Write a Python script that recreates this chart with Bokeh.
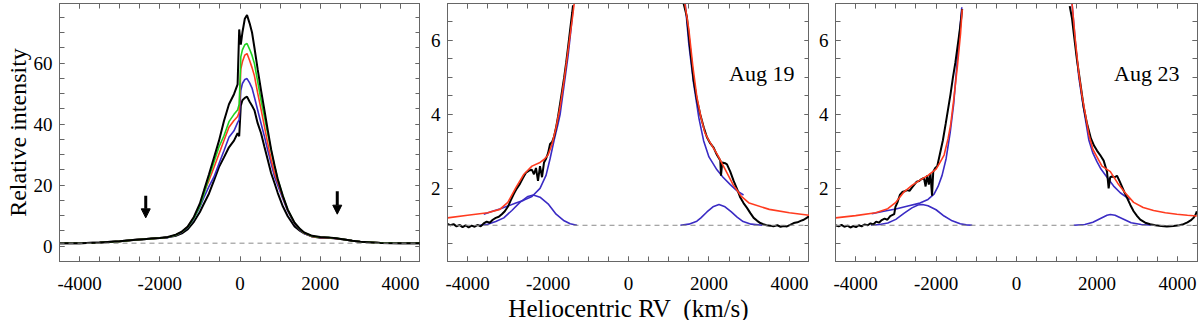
from bokeh.plotting import figure
from bokeh.layouts import row
from bokeh.models import (Range1d, LinearAxis, SingleIntervalTicker, Arrow,
                          NormalHead, Span, Label)
from bokeh.embed import file_html
from bokeh.resources import INLINE

# ---------------- data: panel 1 (all epochs) ----------------
v_all = [-4500, -4000, -3500, -3000, -2600, -2400, -2200, -2000, -1800, -1600,
         -1450, -1300, -1150, -1000, -900, -775, -650, -525, -400, -275,
         -150, -60, -20, 20, 60, 120, 175, 240, 300, 360,
         440, 525, 610, 690, 775, 860, 940, 1070, 1190, 1360,
         1500, 1600, 1800, 2000, 2200, 2400, 2600, 2800, 3000, 3500,
         4000, 4500]
i_black_hi = [1.0, 1.0, 1.2, 1.6, 2.1, 2.3, 2.5, 2.7, 3.0, 3.8,
              4.8, 6.5, 9.6, 14.0, 18.2, 23.5, 29.0, 34.5, 41.0, 46.5,
              49.8, 53.0, 71.0, 66.0, 70.0, 74.5, 75.7, 73.0, 70.0, 65.0,
              58.0, 51.0, 44.5, 38.2, 31.8, 26.5, 22.0, 16.4, 12.0, 7.7,
              5.6, 4.5, 3.4, 3.0, 2.9, 2.6, 2.2, 1.8, 1.45, 1.1,
              1.0, 1.0]
i_green = [1.0, 1.0, 1.2, 1.6, 2.1, 2.3, 2.5, 2.7, 2.95, 3.7,
           4.7, 6.3, 9.2, 13.2, 17.0, 22.5, 27.5, 32.5, 36.2, 40.8,
           43.2, 44.6, 46.5, 62.0, 64.3, 66.0, 66.4, 64.5, 62.5, 59.8,
           54.0, 47.8, 42.3, 37.0, 31.5, 26.5, 22.0, 16.4, 12.0, 7.6,
           5.5, 4.4, 3.3, 2.95, 2.85, 2.6, 2.2, 1.8, 1.45, 1.1,
           1.0, 1.0]
i_red = [1.0, 1.0, 1.2, 1.6, 2.1, 2.3, 2.5, 2.7, 2.95, 3.7,
         4.7, 6.4, 9.4, 13.5, 17.5, 21.5, 25.8, 30.2, 34.6, 39.0,
         41.2, 42.5, 44.0, 58.0, 60.4, 62.6, 63.1, 60.8, 58.5, 55.8,
         50.2, 44.8, 39.2, 33.8, 28.5, 24.0, 21.0, 16.0, 11.8, 7.5,
         5.4, 4.3, 3.2, 2.9, 2.8, 2.55, 2.2, 1.8, 1.45, 1.1,
         1.0, 1.0]
i_blue = [1.0, 1.0, 1.2, 1.6, 2.1, 2.3, 2.5, 2.7, 2.9, 3.6,
          4.6, 6.2, 9.0, 12.8, 16.0, 19.5, 22.7, 27.0, 31.3, 35.7,
          37.8, 40.5, 41.5, 51.0, 53.3, 54.6, 54.9, 53.5, 51.8, 48.8,
          44.6, 40.2, 35.9, 31.5, 27.2, 22.8, 20.0, 15.5, 11.5, 7.3,
          5.3, 4.2, 3.2, 2.85, 2.8, 2.55, 2.2, 1.8, 1.45, 1.1,
          1.0, 1.0]
i_black_lo = [1.0, 1.0, 1.2, 1.6, 2.1, 2.3, 2.5, 2.7, 2.9, 3.4,
              4.2, 5.6, 8.0, 11.2, 13.9, 17.2, 21.5, 25.9, 29.1, 32.4,
              34.6, 37.0, 36.0, 46.0, 47.8, 48.6, 49.0, 47.3, 46.0, 44.5,
              40.3, 37.0, 32.5, 28.4, 24.0, 20.7, 17.5, 13.0, 9.8, 6.5,
              5.0, 4.2, 3.2, 2.8, 2.8, 2.55, 2.2, 1.8, 1.45, 1.1,
              1.0, 1.0]
arrow_v = [-2350, 2425]
arrow_top = [16.5, 18.0]
arrow_tip = [9.3, 10.5]

# ---------------- data: panel 2 (Aug 19) ----------------
a19_obs_l_v = [-4500, -4425, -4350, -4275, -4200, -4125, -4050, -3975, -3900, -3825,
               -3750, -3675, -3600, -3525, -3450, -3375, -3300, -3225, -3150, -3075,
               -3000, -2925, -2850, -2775, -2700, -2625, -2550, -2475, -2400, -2350,
               -2300, -2250, -2200, -2150, -2100, -2050, -2000, -1950, -1900, -1850,
               -1800, -1750, -1700, -1650, -1600, -1550, -1500, -1450, -1400, -1380]
a19_obs_l_i = [1.04, 1.0, 1.03, 0.97, 1.01, 0.95, 1.0, 0.94, 0.99, 0.96,
               1.01, 0.97, 1.05, 1.1, 1.07, 1.15, 1.2, 1.23, 1.3, 1.38,
               1.5, 1.68, 1.85, 2.0, 2.12, 2.28, 2.42, 2.48, 2.5, 2.38,
               2.55, 2.2, 2.6, 2.3, 2.7, 2.8, 2.95, 3.2, 3.25, 3.4,
               3.65, 3.95, 4.3, 4.65, 5.0, 5.4, 5.84, 6.3, 6.75, 6.95]
a19_obs_r_v = [1370, 1450, 1530, 1618, 1700, 1784, 1870, 1950, 2030, 2116,
               2200, 2282, 2300, 2330, 2400, 2448, 2530, 2614, 2700, 2780,
               2860, 2946, 3030, 3112, 3200, 3278, 3350, 3430, 3527, 3600,
               3700, 3780, 3859, 3940, 4020, 4108, 4200, 4280, 4357, 4430,
               4500]
a19_obs_r_i = [7.0, 6.65, 5.8, 4.93, 4.4, 4.0, 3.65, 3.38, 3.22, 3.1,
               2.9, 2.75, 2.34, 2.7, 2.68, 2.65, 2.45, 2.2, 1.98, 1.75,
               1.6, 1.47, 1.33, 1.2, 1.12, 1.06, 1.03, 1.0, 0.99, 0.97,
               1.0, 0.96, 0.98, 0.97, 1.01, 1.06, 1.08, 1.12, 1.15, 1.2,
               1.25]
a19_fit_l_v = [-4500, -4000, -3500, -3200, -3000, -2800, -2600, -2400, -2200, -2100,
               -2000, -1900, -1800, -1700, -1600, -1500, -1400, -1350]
a19_fit_l_i = [1.2, 1.27, 1.34, 1.43, 1.62, 2.02, 2.38, 2.6, 2.7, 2.78,
               2.9, 3.2, 3.65, 4.2, 4.93, 5.75, 6.56, 7.0]
a19_fit_r_v = [1400, 1500, 1600, 1700, 1800, 1900, 2000, 2200, 2400, 2600,
               2800, 3000, 3500, 4000, 4500]
a19_fit_r_i = [7.0, 6.3, 5.3, 4.47, 3.93, 3.5, 3.29, 2.93, 2.52, 2.1,
               1.79, 1.6, 1.43, 1.34, 1.27]
a19_broad_l_v = [-3600, -3400, -3200, -3000, -2800, -2600, -2400, -2200, -2050, -1950,
                 -1850, -1750, -1700, -1600, -1500, -1430, -1370]
a19_broad_l_i = [1.3, 1.37, 1.44, 1.52, 1.6, 1.68, 1.78, 2.0, 2.35, 2.8,
                 3.3, 3.75, 4.0, 4.8, 5.6, 6.3, 6.95]
a19_broad_r_v = [1410, 1500, 1618, 1750, 1867, 2000, 2199, 2350, 2531, 2700, 2860]
a19_broad_r_i = [7.0, 5.9, 4.84, 3.9, 3.29, 2.85, 2.5, 2.3, 2.1, 1.93, 1.82]
a19_gauss_l_v = [-3700, -3500, -3300, -3100, -2900, -2700, -2500, -2367, -2200, -2000,
                 -1800, -1600, -1450, -1283]
a19_gauss_l_i = [1.0, 1.03, 1.1, 1.2, 1.4, 1.62, 1.78, 1.82, 1.76, 1.58,
                 1.3, 1.12, 1.04, 1.0]
a19_gauss_r_v = [1290, 1500, 1700, 1800, 1950, 2100, 2250, 2400, 2550, 2700,
                 2850, 3050, 3330]
a19_gauss_r_i = [1.0, 1.03, 1.11, 1.2, 1.36, 1.5, 1.56, 1.5, 1.37, 1.22,
                 1.1, 1.03, 1.0]

# ---------------- data: panel 3 (Aug 23) ----------------
a23_obs_l_v = [-4500, -4420, -4350, -4280, -4200, -4130, -4060, -3990, -3920, -3850,
               -3780, -3700, -3630, -3560, -3490, -3420, -3350, -3280, -3210, -3140,
               -3080, -3040, -3010, -2960, -2900, -2840, -2780, -2720, -2660, -2600,
               -2540, -2480, -2420, -2360, -2300, -2260, -2220, -2180, -2140, -2100,
               -2070, -2020, -1970, -1900, -1830, -1760, -1700, -1640, -1580, -1520,
               -1470, -1420, -1380, -1350]
a23_obs_l_i = [1.0, 0.97, 1.01, 0.96, 0.99, 0.94, 0.98, 0.95, 1.0, 0.97,
               1.02, 1.0, 1.05, 1.02, 1.1, 1.07, 1.14, 1.18, 1.15, 1.25,
               1.28, 1.3, 1.5, 1.62, 1.82, 1.9, 1.92, 1.95, 1.93, 2.02,
               2.1, 2.18, 2.2, 2.25, 2.28, 2.05, 2.35, 2.1, 2.4, 1.8,
               2.45, 2.55, 2.6, 2.95, 3.3, 3.75, 4.15, 4.55, 5.0, 5.4,
               5.8, 6.2, 6.55, 6.85]
a23_obs_r_v = [1323, 1380, 1423, 1500, 1588, 1670, 1753, 1850, 1930, 2001,
               2080, 2167, 2250, 2291, 2330, 2374, 2440, 2498, 2560, 2620,
               2680, 2746, 2830, 2912, 3000, 3077, 3200, 3325, 3450, 3600,
               3739, 3900, 4050, 4152, 4250, 4330, 4400, 4450, 4483]
a23_obs_r_i = [6.93, 6.6, 6.2, 5.5, 4.84, 4.2, 3.75, 3.35, 3.15, 3.02,
               2.9, 2.75, 2.45, 2.0, 2.3, 2.32, 2.3, 2.34, 2.2, 2.05,
               1.9, 1.75, 1.55, 1.38, 1.25, 1.15, 1.07, 1.03, 1.0, 0.98,
               0.97, 0.98, 1.0, 1.03, 1.08, 1.13, 1.2, 1.28, 1.38]
a23_fit_l_v = [-4500, -4000, -3500, -3200, -3000, -2800, -2600, -2400, -2200, -2000,
               -1900, -1800, -1700, -1640, -1560, -1470, -1390, -1350]
a23_fit_l_i = [1.2, 1.26, 1.34, 1.45, 1.62, 1.9, 2.08, 2.22, 2.35, 2.52,
               2.7, 2.9, 3.35, 3.7, 4.4, 5.3, 6.2, 6.84]
a23_fit_r_v = [1381, 1464, 1550, 1630, 1712, 1800, 1900, 2000, 2126, 2333,
               2539, 2700, 2912, 3150, 3408, 3700, 3987, 4250, 4483]
a23_fit_r_i = [7.0, 6.0, 5.1, 4.5, 4.0, 3.45, 3.05, 2.85, 2.6, 2.45,
               2.1, 1.88, 1.62, 1.48, 1.4, 1.34, 1.3, 1.27, 1.25]
a23_broad_l_v = [-3600, -3300, -3000, -2700, -2400, -2200, -2050, -1950, -1850, -1750,
                 -1650, -1560, -1470, -1400, -1360]
a23_broad_l_i = [1.31, 1.38, 1.44, 1.52, 1.6, 1.7, 1.84, 2.05, 2.35, 2.8,
                 3.5, 4.3, 5.5, 6.4, 6.9]
a23_broad_r_v = [1381, 1460, 1550, 1640, 1700, 1800, 1900, 2000, 2100, 2250,
                 2415, 2580, 2746, 2830]
a23_broad_r_i = [7.0, 6.0, 5.0, 4.35, 3.95, 3.3, 2.95, 2.72, 2.52, 2.3,
                 2.06, 1.88, 1.75, 1.7]
a23_gauss_l_v = [-3620, -3400, -3200, -3000, -2800, -2600, -2450, -2340, -2200, -2000,
                 -1800, -1600, -1400, -1250, -1100]
a23_gauss_l_i = [1.0, 1.02, 1.06, 1.16, 1.32, 1.47, 1.55, 1.56, 1.53, 1.42,
                 1.25, 1.12, 1.04, 1.01, 1.0]
a23_gauss_r_v = [1423, 1700, 1900, 2100, 2250, 2333, 2450, 2650, 2850, 3100, 3408]
a23_gauss_r_i = [1.0, 1.02, 1.08, 1.19, 1.27, 1.29, 1.27, 1.17, 1.07, 1.02, 1.0]

x_tick_labels = {-4000: "-4000", -2000: "-2000", 0: "0", 2000: "2000", 4000: "4000"}
panel_titles = ["Aug 19", "Aug 23"]
x_title = "Heliocentric RV\u00a0 (km/s)"
y_title = "Relative intensity"

# ---------------- styling ----------------
FONT = '"Liberation Serif"'
AX = "#666666"
BLACK = "#000000"
RED = "#ff3b1f"
GREEN = "#1fd31f"
BLUE = "#3a2bc4"
DASH = "#8a8a8a"


def add_axes(p, yint, xlabel=None, ylabel=None):
    def style(ax, show):
        ax.axis_line_color = AX
        ax.major_tick_line_color = AX
        ax.minor_tick_line_color = AX
        ax.major_tick_in = 5
        ax.major_tick_out = 0
        ax.minor_tick_in = 5
        ax.minor_tick_out = 0
        ax.major_label_text_font = FONT
        if show:
            ax.major_label_text_color = BLACK
            ax.major_label_text_font_size = "19px"
        else:
            ax.major_label_text_color = None
            ax.major_label_text_font_size = "1px"
            ax.major_label_standoff = 0
    xb = LinearAxis(ticker=SingleIntervalTicker(interval=2000, num_minor_ticks=4))
    style(xb, True)
    xb.major_label_standoff = 15
    xb.major_label_overrides = x_tick_labels
    if xlabel:
        xb.axis_label = xlabel
        xb.axis_label_text_font = FONT
        xb.axis_label_text_color = BLACK
        xb.axis_label_text_font_style = "normal"
        xb.axis_label_text_font_size = "25px"
        xb.axis_label_standoff = 2
    p.add_layout(xb, "below")
    xt = LinearAxis(ticker=SingleIntervalTicker(interval=2000, num_minor_ticks=4))
    style(xt, False)
    p.add_layout(xt, "above")
    yl = LinearAxis(ticker=SingleIntervalTicker(interval=yint, num_minor_ticks=4))
    style(yl, True)
    yl.major_label_standoff = 7
    if ylabel:
        yl.axis_label = ylabel
        yl.axis_label_text_font = FONT
        yl.axis_label_text_color = BLACK
        yl.axis_label_text_font_style = "normal"
        yl.axis_label_text_font_size = "24px"
        yl.axis_label_standoff = 0
    p.add_layout(yl, "left")
    yr = LinearAxis(ticker=SingleIntervalTicker(interval=yint, num_minor_ticks=4))
    style(yr, False)
    p.add_layout(yr, "right")


def make_fig(y0, y1, fw, bl, br):
    p = figure(frame_width=fw, frame_height=258,
               x_range=Range1d(-4500, 4500), y_range=Range1d(y0, y1),
               x_axis_type=None, y_axis_type=None,
               output_backend="svg", toolbar_location=None,
               min_border_left=bl, min_border_right=br,
               min_border_top=3, min_border_bottom=59)
    p.grid.visible = False
    p.outline_line_color = AX
    p.background_fill_color = "white"
    p.border_fill_color = "white"
    p.add_layout(Span(location=1, dimension="width", line_color=DASH,
                      line_dash="5 4", line_width=1))
    return p


# ---------------- panel 1 ----------------
p1 = make_fig(-5, 79.5, 361, 59, 0)
add_axes(p1, 20, ylabel=y_title)
p1.line(v_all, i_black_lo, line_color=BLACK, line_width=2)
p1.line(v_all, i_blue, line_color=BLUE, line_width=1.6)
p1.line(v_all, i_red, line_color=RED, line_width=1.6)
p1.line(v_all, i_green, line_color=GREEN, line_width=1.6)
p1.line(v_all, i_black_hi, line_color=BLACK, line_width=2)
for xv, yt, yb in zip(arrow_v, arrow_top, arrow_tip):
    p1.add_layout(Arrow(end=NormalHead(size=9, fill_color=BLACK, line_color=BLACK, line_width=1),
                        x_start=xv, y_start=yt, x_end=xv, y_end=yb,
                        line_width=3, line_color=BLACK))

# ---------------- panel 2 ----------------
p2 = make_fig(0.02, 7, 362, 27, 0)
add_axes(p2, 2, xlabel=x_title)
for vv, ii in [(a19_broad_l_v, a19_broad_l_i), (a19_broad_r_v, a19_broad_r_i),
               (a19_gauss_l_v, a19_gauss_l_i), (a19_gauss_r_v, a19_gauss_r_i)]:
    p2.line(vv, ii, line_color=BLUE, line_width=1.6)
p2.line(a19_obs_l_v, a19_obs_l_i, line_color=BLACK, line_width=2)
p2.line(a19_obs_r_v, a19_obs_r_i, line_color=BLACK, line_width=2)
p2.line(a19_fit_l_v, a19_fit_l_i, line_color=RED, line_width=1.6)
p2.line(a19_fit_r_v, a19_fit_r_i, line_color=RED, line_width=1.6)
p2.add_layout(Label(x=4125, y=5.1, text=panel_titles[0], text_align="right",
                    text_baseline="alphabetic", text_font=FONT, text_font_size="22px",
                    text_color=BLACK))

# ---------------- panel 3 ----------------
p3 = make_fig(0.02, 7, 362, 26, 3)
add_axes(p3, 2)
for vv, ii in [(a23_broad_l_v, a23_broad_l_i), (a23_broad_r_v, a23_broad_r_i),
               (a23_gauss_l_v, a23_gauss_l_i), (a23_gauss_r_v, a23_gauss_r_i)]:
    p3.line(vv, ii, line_color=BLUE, line_width=1.6)
p3.line(a23_obs_l_v, a23_obs_l_i, line_color=BLACK, line_width=2)
p3.line(a23_obs_r_v, a23_obs_r_i, line_color=BLACK, line_width=2)
p3.line(a23_fit_l_v, a23_fit_l_i, line_color=RED, line_width=1.6)
p3.line(a23_fit_r_v, a23_fit_r_i, line_color=RED, line_width=1.6)
p3.add_layout(Label(x=4050, y=5.1, text=panel_titles[1], text_align="right",
                    text_baseline="alphabetic", text_font=FONT, text_font_size="22px",
                    text_color=BLACK))

layout = row(p1, p2, p3, spacing=0)
open("out.html", "w").write(file_html(layout, INLINE))
